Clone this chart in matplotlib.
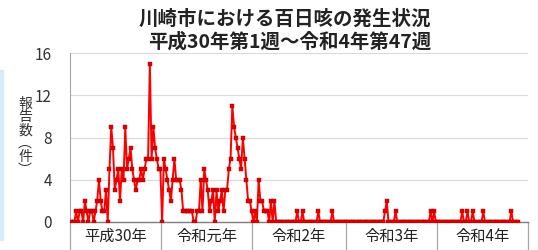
import matplotlib
matplotlib.use('Agg')
import matplotlib.pyplot as plt
from matplotlib.patches import Rectangle
import matplotlib.transforms as mtransforms
import numpy as np

plt.rcParams['font.family'] = ['Noto Sans CJK JP', 'DejaVu Sans']

title1 = "川崎市における百日咳の発生状況"
title2 = "平成30年第1週～令和4年第47週"
ylabel = "報\n告\n数\n︵\n件\n︶"
years = ["平成30年", "令和元年", "令和2年", "令和3年", "令和4年"]
weeks_per_year = [52, 52, 53, 52, 52]
yticks = [0, 4, 8, 12, 16]

h30 = [0, 0, 0, 1, 0, 1, 1, 0, 2, 1,
       0, 1, 1, 0, 1, 2, 4, 2, 1, 1,
       3, 0, 5, 9, 7, 3, 4, 5, 2, 5,
       4, 9, 5, 6, 7, 5, 4, 3, 4, 4,
       5, 4, 5, 6, 6, 15, 6, 9, 7, 6,
       5, 5]
r1 = [0, 6, 5, 4, 3, 2, 4, 6, 4, 4,
      4, 3, 1, 1, 1, 1, 1, 1, 0, 0,
      1, 1, 4, 1, 5, 4, 3, 1, 2, 3,
      0, 3, 1, 2, 3, 1, 3, 3, 5, 6,
      11, 9, 8, 7, 6, 5, 8, 6, 4, 2,
      2, 1]
r2 = [0, 1, 0, 4, 2, 2, 1, 1, 1, 0,
      2, 0, 2, 0, 0, 0, 0, 0, 0, 0,
      0, 0, 0, 0, 0, 1, 0, 0, 1, 0,
      0, 0, 0, 0, 0, 0, 0, 1, 0, 0,
      0, 0, 0, 0, 0, 1, 0, 0, 0, 0,
      0, 0, 0]
r3 = [0, 0, 0, 0, 0, 0, 0, 0, 0, 0,
      0, 0, 0, 0, 0, 0, 0, 0, 0, 0,
      0, 0, 1, 2, 0, 0, 0, 0, 1, 0,
      0, 0, 0, 0, 0, 0, 0, 0, 0, 0,
      0, 0, 0, 0, 0, 0, 0, 0, 1, 0,
      1, 0]
r4 = [0, 0, 0, 0, 0, 0, 0, 0, 0, 0,
      0, 0, 0, 0, 1, 0, 0, 1, 0, 0,
      1, 0, 0, 0, 0, 0, 1, 0, 0, 0,
      0, 0, 0, 0, 0, 0, 0, 0, 0, 0,
      0, 0, 1, 0, 0, 0, 0]

counts = h30 + r1 + r2 + r3 + r4
x = np.arange(len(counts))

W, H = 538, 250
fig = plt.figure(figsize=(W / 100, H / 100), dpi=100)
ax = fig.add_axes([70 / W, 28 / H, 458 / W, 169 / H])

ax.plot(x, counts, color='#ff0000', lw=1.4, marker='s', ms=2.2,
        mfc='#e00000', mec='#b00000', mew=0.3, zorder=3)

total = sum(weeks_per_year)
ax.set_xlim(-0.5, total - 0.5)
ax.set_ylim(0, 16)
ax.set_yticks(yticks)
ax.grid(axis='y', color='#d9d9d9', lw=0.8)
ax.set_axisbelow(True)
ax.set_xticks([])
for s in ['top', 'right']:
    ax.spines[s].set_visible(False)
ax.spines['left'].set_color('#a6a6a6')
ax.spines['bottom'].set_color('#7f7f7f')
ax.spines['bottom'].set_linewidth(1.0)
ax.tick_params(axis='y', length=0, labelsize=11, pad=13, colors='#333333')

trans = mtransforms.blended_transform_factory(ax.transData, ax.transAxes)
drop = -28 / 169
bounds = np.concatenate([[0], np.cumsum(weeks_per_year)]) - 0.5
for b in bounds:
    ax.plot([b, b], [0, drop], transform=trans, color='#a6a6a6', lw=0.9,
            clip_on=False)
for i, name in enumerate(years):
    c = (bounds[i] + bounds[i + 1]) / 2
    ax.text(c, -14 / 169, name, transform=trans, ha='center', va='center',
            fontsize=11, color='#222222')

fig.text(25 / W, 1 - 137 / H, ylabel, ha='center', va='center',
         fontsize=10, linespacing=0.92, color='#333333')

fig.text(285 / W, 1 - 19 / H, title1, ha='center', va='center',
         fontsize=14, fontweight='bold', color='#222222')
fig.text(290 / W, 1 - 42 / H, title2, ha='center', va='center',
         fontsize=14, fontweight='bold', color='#222222')

fig.patches.append(Rectangle((0, 10 / H), 3 / W, 170 / H, transform=fig.transFigure,
                             color='#d6ecfa', zorder=0))

fig.savefig('out.png', dpi=100)
